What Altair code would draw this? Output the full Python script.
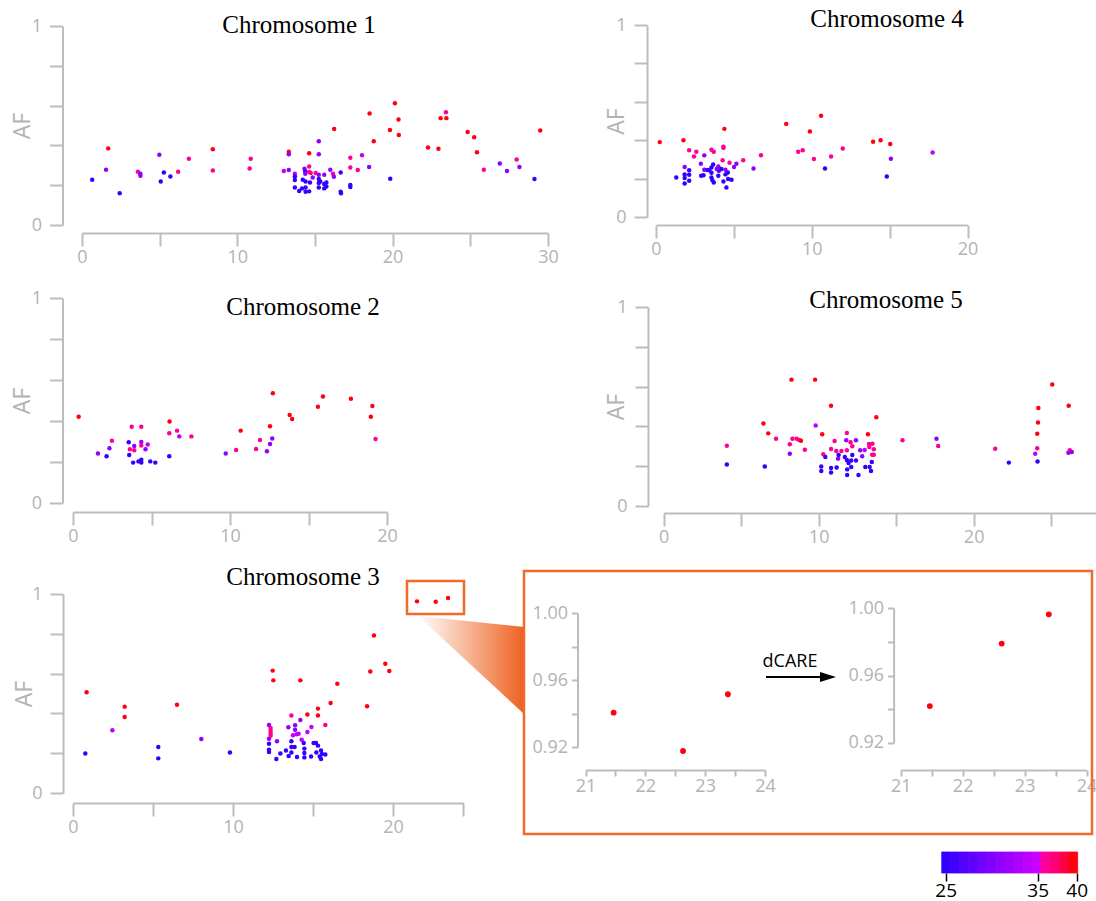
import altair as alt
import pandas as pd

W, H = 1096, 901
LINE = "#bdbdbd"
TXT = "#b3b3b3"
FONT = "Open Sans"
SERIF = "Liberation Serif"
ORANGE = "#f06a2b"

# colour codes: blue ~25, violet ~31, purple ~34, pink ~36, red ~40
B, V, M, P, R = 25, 31, 34, 36, 40

# ---------------- Chromosome 1 ----------------
chr1_x = [0.67, 1.56, 1.70, 2.44, 3.61, 3.77, 3.77, 4.99, 5.08, 5.28, 5.70, 6.20, 6.89, 8.43, 8.43,
          10.80, 10.87, 13.00, 13.32, 13.32, 13.32, 13.71, 13.71, 13.71, 13.71, 13.99, 14.17, 14.22,
          14.33, 14.38, 14.38, 14.40, 14.40, 14.40, 14.63, 14.63, 14.63, 14.63, 14.68, 14.73, 14.86,
          15.05, 15.25, 15.25, 15.25, 15.25, 15.25, 15.25, 15.35, 15.60, 15.60, 15.60, 15.74, 15.74,
          15.99, 16.17, 16.22, 16.24, 16.66, 16.66, 16.68, 17.28, 17.28, 17.28, 17.28, 17.76, 18.03,
          18.49, 18.52, 18.79, 19.83, 19.85, 20.15, 20.38, 20.40, 22.28, 22.95, 23.09, 23.43, 23.46,
          24.83, 25.25, 25.43, 25.87, 26.90, 27.36, 27.98, 28.16, 29.13, 29.50]
chr1_af = [0.227, 0.278, 0.385, 0.159, 0.268, 0.258, 0.247, 0.353, 0.219, 0.264, 0.244, 0.268, 0.333,
           0.381, 0.274, 0.284, 0.333, 0.271, 0.368, 0.355, 0.276, 0.258, 0.244, 0.226, 0.189, 0.171,
           0.184, 0.227, 0.283, 0.269, 0.258, 0.219, 0.189, 0.167, 0.294, 0.361, 0.266, 0.169, 0.214,
           0.261, 0.239, 0.261, 0.421, 0.356, 0.253, 0.231, 0.211, 0.189, 0.219, 0.253, 0.206, 0.184,
           0.214, 0.194, 0.278, 0.258, 0.242, 0.482, 0.264, 0.167, 0.159, 0.338, 0.289, 0.201, 0.191,
           0.276, 0.351, 0.291, 0.560, 0.421, 0.477, 0.232, 0.612, 0.530, 0.452, 0.390, 0.383, 0.537,
           0.567, 0.537, 0.467, 0.441, 0.366, 0.278, 0.309, 0.271, 0.329, 0.291, 0.231, 0.475]
chr1_c = [B, V, R, B, P, V, V, V, B, B, B, P, P, R, P, P, P, M, R, V, V, M, B, B, B, B, B, B, V, B,
          V, B, B, B, P, R, P, B, B, P, V, P, V, V, V, B, B, B, B, V, B, B, B, B, V, P, V, R, B, B,
          B, P, P, B, B, P, M, V, R, R, R, B, R, R, R, R, R, R, P, R, R, R, R, P, V, V, P, V, B, R]

# ---------------- Chromosome 2 ----------------
chr2_x = [0.36, 1.59, 2.14, 2.32, 2.48, 3.55, 3.58, 3.62, 3.74, 3.83, 3.90, 3.90, 4.17, 4.35, 4.35,
          4.35, 4.35, 4.35, 4.62, 4.76, 4.92, 5.24, 6.13, 6.13, 6.15, 6.63, 6.77, 7.54, 9.73, 10.39,
          10.68, 11.66, 11.91, 12.35, 12.55, 12.55, 12.69, 12.73, 13.80, 13.96, 15.60, 15.92, 17.70,
          18.97, 19.07, 19.27]
chr2_af = [0.421, 0.242, 0.228, 0.267, 0.304, 0.296, 0.234, 0.262, 0.372, 0.197, 0.278, 0.257, 0.203,
           0.372, 0.298, 0.281, 0.211, 0.198, 0.262, 0.285, 0.203, 0.197, 0.228, 0.340, 0.398, 0.353,
           0.325, 0.325, 0.242, 0.259, 0.353, 0.263, 0.307, 0.252, 0.374, 0.288, 0.315, 0.535, 0.429,
           0.410, 0.470, 0.519, 0.509, 0.421, 0.473, 0.312]
chr2_c = [R, V, B, V, P, B, B, P, P, B, V, P, B, P, V, P, B, B, V, M, B, B, B, P, R, P, M, P, V, P,
          R, P, P, V, R, V, V, R, R, R, R, R, R, R, R, P]

# ---------------- Chromosome 3 ----------------
chr3_x = [0.77, 0.85, 2.46, 3.23, 3.23, 5.33, 5.33, 6.50, 8.02, 9.81, 12.25, 12.25, 12.25, 12.25,
          12.25, 12.35, 12.35, 12.35, 12.35, 12.48, 12.52, 12.71, 12.75, 12.96, 13.31, 13.46, 13.48,
          13.65, 13.65, 13.65, 13.65, 13.75, 13.85, 13.88, 13.88, 13.98, 14.00, 14.10, 14.21, 14.21,
          14.29, 14.42, 14.46, 14.46, 14.46, 14.65, 14.65, 14.88, 14.90, 15.04, 15.19, 15.21, 15.31,
          15.31, 15.31, 15.42, 15.50, 15.50, 15.56, 15.77, 15.77, 16.10, 16.52, 18.38, 18.58, 18.81,
          19.52, 19.77, 21.50, 22.67, 23.44]
chr3_af = [0.198, 0.506, 0.315, 0.434, 0.382, 0.231, 0.174, 0.444, 0.271, 0.204, 0.342, 0.273, 0.248,
           0.218, 0.206, 0.327, 0.313, 0.300, 0.288, 0.615, 0.566, 0.171, 0.260, 0.199, 0.214, 0.330,
           0.186, 0.389, 0.260, 0.231, 0.204, 0.290, 0.231, 0.340, 0.318, 0.295, 0.181, 0.298, 0.566,
           0.367, 0.268, 0.251, 0.223, 0.201, 0.179, 0.394, 0.307, 0.183, 0.332, 0.251, 0.251, 0.204,
           0.424, 0.389, 0.238, 0.183, 0.214, 0.171, 0.196, 0.342, 0.194, 0.452, 0.549, 0.436, 0.610,
           0.791, 0.650, 0.613, 0.963, 0.961, 0.980]
chr3_c = [B, R, M, R, R, B, B, R, V, B, V, V, B, B, B, P, P, P, P, R, R, B, V, B, B, V, B, P, B, B,
          B, M, B, V, V, M, B, M, R, V, M, B, B, B, B, R, M, B, M, B, B, B, R, R, B, B, B, B, B, P,
          B, R, R, R, R, R, R, R, R, R, R]

# ---------------- Chromosome 4 ----------------
chr4_x = [0.24, 1.76, 2.13, 2.44, 2.59, 1.30, 1.84, 1.84, 1.84, 1.84, 2.13, 2.13, 2.13, 2.88, 2.90,
          3.05, 3.10, 3.10, 3.42, 3.56, 3.56, 3.56, 3.56, 3.62, 3.71, 3.67, 3.71, 4.00, 4.00, 4.04,
          4.28, 4.33, 4.33, 4.39, 4.33, 4.46, 4.46, 4.52, 4.61, 4.63, 4.72, 4.85, 5.01, 5.16, 5.60,
          6.26, 6.74, 8.36, 9.13, 9.42, 9.88, 10.14, 10.60, 10.85, 11.24, 11.99, 13.94, 14.42, 14.82,
          15.04, 15.08, 17.76, 3.30, 3.90, 4.20]
chr4_af = [0.390, 0.400, 0.348, 0.315, 0.340, 0.206, 0.260, 0.222, 0.203, 0.175, 0.243, 0.220, 0.189,
           0.277, 0.215, 0.217, 0.321, 0.246, 0.243, 0.350, 0.258, 0.231, 0.206, 0.192, 0.340, 0.274,
           0.180, 0.263, 0.215, 0.241, 0.295, 0.366, 0.360, 0.459, 0.185, 0.246, 0.222, 0.154, 0.232,
           0.198, 0.283, 0.194, 0.260, 0.277, 0.295, 0.253, 0.322, 0.485, 0.340, 0.348, 0.445, 0.302,
           0.527, 0.253, 0.315, 0.357, 0.392, 0.400, 0.211, 0.380, 0.303, 0.336, 0.245, 0.250, 0.250]
chr4_c = [R, R, P, P, P, B, V, B, B, B, B, B, B, V, B, B, V, V, B, P, B, B, B, B, P, B, B, V, B, B,
          P, P, P, R, B, V, B, B, B, B, P, B, V, V, P, V, P, R, P, P, R, P, R, B, P, P, R, R, B, R,
          V, M, B, V, B]

# ---------------- Chromosome 5 ----------------
chr5_x = [4.08, 4.08, 6.44, 6.53, 6.75, 7.25, 8.14, 8.14, 8.25, 8.31, 8.58, 8.75, 8.86, 9.11, 9.77,
          9.81, 10.17, 10.17, 10.23, 10.30, 10.43, 10.80, 10.80, 10.80, 10.80, 11.03, 11.14, 11.16,
          11.25, 11.29, 11.47, 11.69, 11.78, 11.82, 11.82, 11.82, 11.84, 11.84, 11.93, 12.06, 12.10,
          12.10, 12.17, 12.17, 12.41, 12.41, 12.57, 12.68, 12.81, 12.97, 13.01, 13.18, 13.25, 13.27,
          13.29, 13.38, 13.43, 13.45, 13.47, 13.56, 13.56, 13.72, 15.41, 17.60, 17.71, 21.39, 22.27,
          23.97, 24.10, 24.10, 24.15, 24.17, 24.12, 25.07, 26.13, 26.11, 26.20, 26.33]
chr5_af = [0.303, 0.209, 0.415, 0.199, 0.365, 0.338, 0.310, 0.263, 0.635, 0.338, 0.338, 0.332, 0.328,
           0.283, 0.635, 0.404, 0.198, 0.176, 0.360, 0.260, 0.246, 0.504, 0.286, 0.191, 0.168, 0.327,
           0.276, 0.194, 0.238, 0.256, 0.276, 0.246, 0.330, 0.367, 0.280, 0.231, 0.184, 0.156, 0.216,
           0.320, 0.229, 0.196, 0.300, 0.256, 0.330, 0.229, 0.156, 0.280, 0.250, 0.281, 0.196, 0.360,
           0.312, 0.296, 0.196, 0.176, 0.221, 0.258, 0.313, 0.285, 0.258, 0.446, 0.330, 0.338, 0.302,
           0.288, 0.218, 0.263, 0.290, 0.363, 0.420, 0.492, 0.224, 0.610, 0.504, 0.268, 0.280, 0.271]
chr5_c = [P, B, R, B, R, P, P, V, R, P, P, P, R, P, R, M, B, B, R, P, B, R, P, B, B, P, P, B, V, B,
          P, B, V, P, P, B, B, B, B, P, B, B, P, B, V, B, B, V, V, M, B, R, P, P, B, B, B, P, P, P,
          P, R, P, V, P, P, B, M, P, R, R, R, B, R, R, V, P, V]

# ---------------- Inset: chromosome 3 outliers before / after dCARE ----------------
before_x = [21.47, 22.63, 23.38]
before_af = [0.9405, 0.9176, 0.9515]
after_x = [21.47, 22.63, 23.39]
after_af = [0.9418, 0.9790, 0.9964]
inset_c = [R, R, R]

# ---------------- colour bar ----------------
bar_lo = [24.57, 25.5, 26.5, 27.5, 28.5, 29.5, 30.5, 31.5, 32.5, 33.5, 34.5, 35.43, 36.6, 37.8, 38.9]
bar_hi = [25.5, 26.5, 27.5, 28.5, 29.5, 30.5, 31.5, 32.5, 33.5, 34.5, 35.43, 36.6, 37.8, 38.9, 40.13]
bar_val = [25, 26, 27, 28, 29, 30, 31, 32, 33, 34, 35, 35.6, 36.8, 38.3, 40]
bar_ticks = [25, 35, 40]

color_scale = alt.Scale(domain=[25, 35, 35.5, 40],
                        range=["#3300ff", "#cc00ff", "#ff00a0", "#ff0010"],
                        interpolate="rgb")


def panel(xs, ys, cs, xdom, xrng, ydom, yrng, xvals, yvals, xlab, ylab, xaxis_y, yaxis_x,
          ytitle=None, ytitle_x=0, tick=13, xpad=2, ypad=8, size=20):
    df = pd.DataFrame({"x": xs, "y": ys, "c": cs})
    xkw = dict(orient="bottom", offset=xaxis_y - H, values=xvals, labelExpr=xlab,
               title=None, grid=False, domainColor=LINE, domainWidth=2, tickColor=LINE,
               tickWidth=2, tickSize=tick, labelColor=TXT, labelFont=FONT, labelFontSize=18,
               labelPadding=xpad, labelFlush=False, labelOverlap=False)
    ykw = dict(orient="left", offset=-yaxis_x, values=yvals, labelExpr=ylab, grid=False,
               domainColor=LINE, domainWidth=2, tickColor=LINE, tickWidth=2, tickSize=tick,
               labelColor=TXT, labelFont=FONT, labelFontSize=18, labelPadding=ypad,
               labelFlush=False, labelOverlap=False)
    if ytitle:
        ykw.update(title=ytitle, titleX=ytitle_x, titleColor=TXT, titleFont=FONT,
                   titleFontSize=23, titleFontWeight="normal", titleBaseline="middle",
                   titleAlign="center")
    else:
        ykw.update(title=None)
    return alt.Chart(df).mark_circle(size=size, opacity=1).encode(
        x=alt.X("x:Q", scale=alt.Scale(domain=xdom, range=xrng, nice=False, zero=False), axis=alt.Axis(**xkw)),
        y=alt.Y("y:Q", scale=alt.Scale(domain=ydom, range=yrng, nice=False, zero=False), axis=alt.Axis(**ykw)),
        color=alt.Color("c:Q", scale=color_scale, legend=None),
    )


def label(txt, x, y, size, font, color, align="center", baseline="alphabetic"):
    return alt.Chart(alt.Data(values=[{"t": txt}])).mark_text(
        font=font, fontSize=size, color=color, align=align, baseline=baseline
    ).encode(text="t:N", x=alt.value(x), y=alt.value(y))


XLAB10 = "datum.value % 10 == 0 ? format(datum.value, 'd') : ''"
YLAB01 = "datum.value == 0 || datum.value == 1 ? format(datum.value, 'd') : ''"
XLAB1 = "datum.value % 1 == 0 ? format(datum.value, 'd') : ''"
YLABIN = "indexof(['0.92','0.96','1.00'], format(datum.value, '.2f')) >= 0 ? format(datum.value, '.2f') : ''"
YV = [0, 0.2, 0.4, 0.6, 0.8, 1]

p1 = panel(chr1_x, chr1_af, chr1_c, [0, 30], [81.8, 548], [0, 1], [225, 26],
           [0, 5, 10, 15, 20, 25, 30], YV, XLAB10, YLAB01, 233, 62.5, "AF", -40)
p4 = panel(chr4_x, chr4_af, chr4_c, [0, 20], [656, 967.5], [0, 1], [217, 25],
           [0, 5, 10, 15, 20], YV, XLAB10, YLAB01, 225, 647, "AF", -31)
p2 = panel(chr2_x, chr2_af, chr2_c, [0, 20], [73, 387], [0, 1], [503, 298],
           [0, 5, 10, 15, 20], YV, XLAB10, YLAB01, 512, 62.5, "AF", -40)
p5 = panel(chr5_x, chr5_af, chr5_c, [0, 28], [663.6, 1097.7], [0, 1], [506, 307],
           [0, 5, 10, 15, 20, 25], YV, XLAB10, YLAB01, 513, 648, "AF", -32)
p3 = panel(chr3_x, chr3_af, chr3_c, [0, 24.4], [73, 463.4], [0, 1], [793, 594],
           [0, 5, 10, 15, 20, 24.4], YV, XLAB10, YLAB01, 803, 63, "AF", -39)

IV_X = [21, 21.5, 22, 22.5, 23, 23.5, 24]
IV_Y = [0.92, 0.94, 0.96, 0.98, 1.00]
pa = panel(before_x, before_af, inset_c, [21, 24], [585.5, 765], [0.92, 1.0], [747, 613],
           IV_X, IV_Y, XLAB1, YLABIN, 770, 577.5, tick=6, xpad=1, ypad=4, size=34)
pb = panel(after_x, after_af, inset_c, [21, 24], [900.7, 1086.6], [0.92, 1.0], [742.7, 608.3],
           IV_X, IV_Y, XLAB1, YLABIN, 770, 893.6, tick=6, xpad=1, ypad=4, size=34)

# zoom wedge from the small box to the inset
wedge = alt.Chart(alt.Data(values=[{"px": 418, "py": 616, "py2": 616},
                                   {"px": 524, "py": 627, "py2": 714}])).mark_area(
    color=alt.Gradient(gradient="linear",
                       stops=[alt.GradientStop(color="#ffffff", offset=0),
                              alt.GradientStop(color="#ee6221", offset=1)],
                       x1=0, x2=1, y1=0, y2=0)
).encode(x=alt.X("px:Q", scale=None, axis=None), y=alt.Y("py:Q", scale=None, axis=None), y2="py2:Q")

box_small = alt.Chart(alt.Data(values=[{"a": 1}])).mark_rect(
    fillOpacity=0, stroke=ORANGE, strokeWidth=2.5
).encode(x=alt.value(407), x2=alt.value(464), y=alt.value(581), y2=alt.value(614))
box_big = alt.Chart(alt.Data(values=[{"a": 1}])).mark_rect(
    fillOpacity=0, stroke=ORANGE, strokeWidth=2.5
).encode(x=alt.value(524), x2=alt.value(1092), y=alt.value(571), y2=alt.value(834))

arrow_line = alt.Chart(alt.Data(values=[{"a": 1}])).mark_rule(color="black", strokeWidth=2).encode(
    x=alt.value(766), x2=alt.value(824), y=alt.value(677))
arrow_head = alt.Chart(alt.Data(values=[{"a": 1}])).mark_point(
    shape="M0,-5L16,0L0,5Z", size=4, filled=True, color="black", opacity=1
).encode(x=alt.value(820), y=alt.value(677))

bar_df = pd.DataFrame({"lo": bar_lo, "hi": bar_hi, "c": bar_val})
colorbar = alt.Chart(bar_df).mark_rect(strokeWidth=0.8).encode(
    x=alt.X("lo:Q", scale=alt.Scale(domain=[25, 35, 40], range=[945.7, 1037.7, 1076.7], nice=False, zero=False),
            axis=alt.Axis(orient="bottom", offset=873 - H, values=bar_ticks, title=None, grid=False,
                          domain=False, tickColor="black", tickSize=8, tickWidth=1.5,
                          labelColor="black", labelFont=FONT, labelFontSize=19, labelPadding=0,
                          labelFlush=False, labelOverlap=False)),
    x2="hi:Q",
    y=alt.value(852), y2=alt.value(873),
    color=alt.Color("c:Q", scale=color_scale, legend=None),
    stroke=alt.Stroke("c:Q", scale=color_scale, legend=None),
)

titles = [
    label("Chromosome 1", 299, 33, 25, SERIF, "black"),
    label("Chromosome 4", 887, 27, 25, SERIF, "black"),
    label("Chromosome 2", 303, 315, 25, SERIF, "black"),
    label("Chromosome 5", 886, 308, 25, SERIF, "black"),
    label("Chromosome 3", 303, 585, 25, SERIF, "black"),
    label("dCARE", 790, 667, 18, FONT, "black"),
]

chart = alt.layer(
    wedge, box_small, box_big, p1, p4, p2, p5, p3, pa, pb, arrow_line, arrow_head, colorbar, *titles
).resolve_scale(x="independent", y="independent").properties(
    width=W, height=H, autosize=alt.AutoSizeParams(type="none"), padding=0, background="white"
).configure_view(strokeWidth=0)

chart.save("out.html", embed_options={"renderer": "svg", "actions": False})
